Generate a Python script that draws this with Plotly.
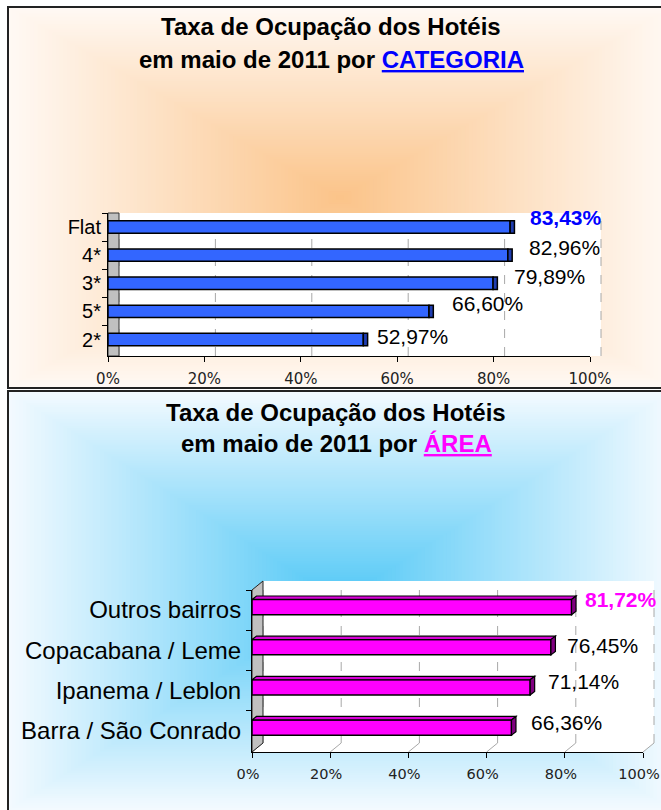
import plotly.graph_objects as go

# ---------------- data ----------------
cat_categories = ["Flat", "4*", "3*", "5*", "2*"]
cat_values = [83.43, 82.96, 79.89, 66.60, 52.97]
area_categories = ["Outros bairros", "Copacabana / Leme", "Ipanema / Leblon", "Barra / São Conrado"]
area_values = [81.72, 76.45, 71.14, 66.36]
x_tickvals = [0, 20, 40, 60, 80, 100]
x_ticktext = ["0%", "20%", "40%", "60%", "80%", "100%"]

# ---------------- style / geometry ----------------
W, H = 661, 810
SANS = "Liberation Sans, Arial, sans-serif"
TICKF = "DejaVu Sans, Verdana, sans-serif"

def px(x):
    return x / W

def py(y):
    return 1 - y / H

def fmt(v):
    return f"{v:.2f}".replace(".", ",") + "%"

# top chart plot area (pixels)
TX0, TX1, TY0, TY1 = 108, 590, 213, 356
TDEPTH = 11
# bottom chart plot area (pixels)
BX0, BX1, BY0, BY1 = 252, 643, 590, 752
BDX, BDY = 11, 9

# label offsets (pixels) per bar
top_lbl_dx = [14, 15, 15, 17, 7]
top_lbl_dy = [10, 8, 7, 8, 3]
bot_lbl_dx = [7, 10, 11, 13]
bot_lbl_dy = [11, 5, 9, 8]

shapes = []


def hex2rgb(h):
    h = h.lstrip("#")
    return tuple(int(h[i:i + 2], 16) for i in (0, 2, 4))


def gradient(x0, y0, x1, y1, edge, center, n=90):
    e, c = hex2rgb(edge), hex2rgb(center)
    cx, cy = (x0 + x1) / 2, (y0 + y1) / 2
    hw, hh = (x1 - x0) / 2, (y1 - y0) / 2
    for k in range(n):
        f = 1 - k / n
        t = k / (n - 1)
        col = "rgb(%d,%d,%d)" % tuple(round(e[i] + (c[i] - e[i]) * t) for i in range(3))
        shapes.append(dict(type="rect", xref="paper", yref="paper",
                           x0=px(cx - hw * f), x1=px(cx + hw * f),
                           y0=py(cy + hh * f), y1=py(cy - hh * f),
                           fillcolor=col, line=dict(width=0), layer="below"))


# backgrounds
gradient(8, 7, 672, 388, "#FFF9F4", "#FBC48A")
gradient(8, 391, 672, 810, "#F3FAFF", "#52C8F6")

# panel borders
for (a, b, c, d) in [(8, 7, 680, 388), (8, 391, 680, 830)]:
    shapes.append(dict(type="rect", xref="paper", yref="paper",
                       x0=px(a), x1=px(c), y0=py(b), y1=py(d),
                       line=dict(color="#222222", width=2), layer="below"))

# ---- top chart walls and grid ----
shapes.append(dict(type="rect", xref="paper", yref="paper",
                   x0=px(TX0 + TDEPTH), x1=px(TX1 + TDEPTH), y0=py(TY1), y1=py(TY0),
                   fillcolor="white", line=dict(width=0), layer="below"))
tscale = (TX1 - TX0) / 100.0
for v in x_tickvals:
    gx = TX0 + v * tscale + TDEPTH
    shapes.append(dict(type="line", xref="paper", yref="paper",
                       x0=px(gx), x1=px(gx), y0=py(TY1), y1=py(TY0),
                       line=dict(color="#A8A8A8", width=1, dash="dash"), layer="below"))
shapes.append(dict(type="rect", xref="paper", yref="paper",
                   x0=px(TX0), x1=px(TX0 + TDEPTH), y0=py(TY1), y1=py(TY0),
                   fillcolor="#C0C0C0", line=dict(color="#333333", width=1), layer="below"))

# ---- bottom chart walls, floor and grid ----
shapes.append(dict(type="rect", xref="paper", yref="paper",
                   x0=px(BX0 + BDX), x1=px(BX1 + BDX), y0=py(BY1 - BDY), y1=py(BY0 - BDY),
                   fillcolor="white", line=dict(width=0), layer="below"))
shapes.append(dict(type="path", xref="paper", yref="paper",
                   path="M %f,%f L %f,%f L %f,%f L %f,%f Z" % (
                       px(BX0), py(BY1), px(BX0 + BDX), py(BY1 - BDY),
                       px(BX1 + BDX), py(BY1 - BDY), px(BX1), py(BY1)),
                   fillcolor="white", line=dict(width=0), layer="below"))
bscale = (BX1 - BX0) / 100.0
for v in x_tickvals:
    fx = BX0 + v * bscale
    shapes.append(dict(type="line", xref="paper", yref="paper",
                       x0=px(fx + BDX), x1=px(fx + BDX), y0=py(BY1 - BDY), y1=py(BY0 - BDY),
                       line=dict(color="#A8A8A8", width=1, dash="dash"), layer="below"))
    shapes.append(dict(type="line", xref="paper", yref="paper",
                       x0=px(fx), x1=px(fx + BDX), y0=py(BY1), y1=py(BY1 - BDY),
                       line=dict(color="#A8A8A8", width=1), layer="below"))
shapes.append(dict(type="path", xref="paper", yref="paper",
                   path="M %f,%f L %f,%f L %f,%f L %f,%f Z" % (
                       px(BX0), py(BY1), px(BX0 + BDX), py(BY1 - BDY),
                       px(BX0 + BDX), py(BY0 - BDY), px(BX0), py(BY0)),
                   fillcolor="#C0C0C0", line=dict(color="#222222", width=1), layer="below"))

fig = go.Figure()

# ---- top bars ----
top_cap = 4.3 / tscale
fig.add_trace(go.Bar(x=cat_values, y=cat_categories, orientation="h", width=0.44,
                     marker=dict(color="#3366FF", line=dict(color="black", width=1.5)),
                     xaxis="x", yaxis="y", hoverinfo="skip"))
fig.add_trace(go.Bar(x=[top_cap] * len(cat_values), base=cat_values, y=cat_categories,
                     orientation="h", width=0.44,
                     marker=dict(color="#1F3DB0", line=dict(color="black", width=1.5)),
                     xaxis="x", yaxis="y", hoverinfo="skip"))

# ---- bottom bars ----
bw = 0.38
boff = -0.19 - 3.0 / ((BY1 - BY0) / len(area_categories))
fig.add_trace(go.Bar(x=area_values, y=area_categories, orientation="h", width=bw, offset=boff,
                     marker=dict(color="#FF00FF", line=dict(color="black", width=1.5)),
                     xaxis="x2", yaxis="y2", hoverinfo="skip"))
cat_h = (BY1 - BY0) / len(area_categories)
ddx = 4.5 / bscale
ddy = 3.5 / cat_h
for i, v in enumerate(area_values):
    ytop = i + boff
    ybot = i + boff + bw
    shapes.append(dict(type="path", xref="x2", yref="y2",
                       path="M 0,%f L %f,%f L %f,%f L %f,%f Z" % (
                           ytop, v, ytop, v + ddx, ytop - ddy, ddx, ytop - ddy),
                       fillcolor="#D800D8", line=dict(color="black", width=1.2), layer="above"))
    shapes.append(dict(type="path", xref="x2", yref="y2",
                       path="M %f,%f L %f,%f L %f,%f L %f,%f Z" % (
                           v, ytop, v + ddx, ytop - ddy, v + ddx, ybot - ddy, v, ybot),
                       fillcolor="#800080", line=dict(color="black", width=1.2), layer="above"))

# ---- annotations ----
ann = []
title_font = dict(family=SANS, size=24, color="black")
ann.append(dict(text="<b>Taxa de Ocupação dos Hotéis</b>", x=px(331), y=py(27), xref="paper", yref="paper",
                showarrow=False, xanchor="center", yanchor="middle", font=title_font))
ann.append(dict(text="<b>em maio de 2011 por <span style='color:#0000FF'><u>CATEGORIA</u></span></b>",
                x=px(331), y=py(59), xref="paper", yref="paper",
                showarrow=False, xanchor="center", yanchor="middle", font=title_font))
ann.append(dict(text="<b>Taxa de Ocupação dos Hotéis</b>", x=px(336), y=py(412), xref="paper", yref="paper",
                showarrow=False, xanchor="center", yanchor="middle", font=title_font))
ann.append(dict(text="<b>em maio de 2011 por <span style='color:#FF00FF'><u>ÁREA</u></span></b>",
                x=px(336), y=py(443), xref="paper", yref="paper",
                showarrow=False, xanchor="center", yanchor="middle", font=title_font))

best_top = max(cat_values)
for i, (c, v) in enumerate(zip(cat_categories, cat_values)):
    hi = v == best_top
    ann.append(dict(text=("<b>%s</b>" % fmt(v)) if hi else fmt(v), x=v + top_cap, y=c,
                    xref="x", yref="y", showarrow=False, xanchor="left", yanchor="middle",
                    xshift=top_lbl_dx[i], yshift=top_lbl_dy[i],
                    font=dict(family=SANS, size=21, color="#0000FF" if hi else "black")))
best_area = max(area_values)
for i, (c, v) in enumerate(zip(area_categories, area_values)):
    hi = v == best_area
    ann.append(dict(text=("<b>%s</b>" % fmt(v)) if hi else fmt(v), x=v + ddx, y=c,
                    xref="x2", yref="y2", showarrow=False, xanchor="left", yanchor="middle",
                    xshift=bot_lbl_dx[i], yshift=bot_lbl_dy[i],
                    font=dict(family=SANS, size=21, color="#FF00FF" if hi else "black")))

xaxis_common = dict(range=[0, 100], tickvals=x_tickvals, ticktext=x_ticktext, ticks="outside",
                    ticklen=5, tickcolor="black", showline=True, linecolor="black", linewidth=1,
                    showgrid=False, zeroline=False, fixedrange=True, automargin=False,
                    ticklabeloverflow="allow", ticklabelstandoff=4)

fig.update_layout(
    width=W, height=H, autosize=False,
    margin=dict(l=0, r=0, t=0, b=0, autoexpand=False),
    paper_bgcolor="white", plot_bgcolor="rgba(0,0,0,0)",
    showlegend=False, hovermode=False, barmode="overlay",
    xaxis=dict(domain=[px(TX0), px(TX1)], anchor="y",
               tickfont=dict(family=TICKF, size=15, color="#222222"), **xaxis_common),
    yaxis=dict(domain=[py(TY1), py(TY0)], anchor="x", type="category",
               categoryorder="array", categoryarray=cat_categories, autorange="reversed",
               ticks="outside", ticklen=5, tickcolor="black", tickson="boundaries",
               showline=True, linecolor="black", linewidth=1, showgrid=False, fixedrange=True,
               automargin=False,
               tickfont=dict(family=SANS, size=20, color="black"), ticklabelstandoff=2),
    xaxis2=dict(domain=[px(BX0), px(BX1)], anchor="y2", ticklabelshift=-4,
                tickfont=dict(family=TICKF, size=14.5, color="#222222"), **xaxis_common),
    yaxis2=dict(domain=[py(BY1), py(BY0)], anchor="x2", type="category",
                categoryorder="array", categoryarray=area_categories, autorange="reversed",
                ticks="outside", ticklen=5, tickcolor="black", tickson="boundaries",
                showline=True, linecolor="black", linewidth=1, showgrid=False, fixedrange=True,
                automargin=False,
                tickfont=dict(family=SANS, size=24, color="black"), ticklabelstandoff=5),
    shapes=shapes,
    annotations=ann,
)

fig.write_html("out.html")
